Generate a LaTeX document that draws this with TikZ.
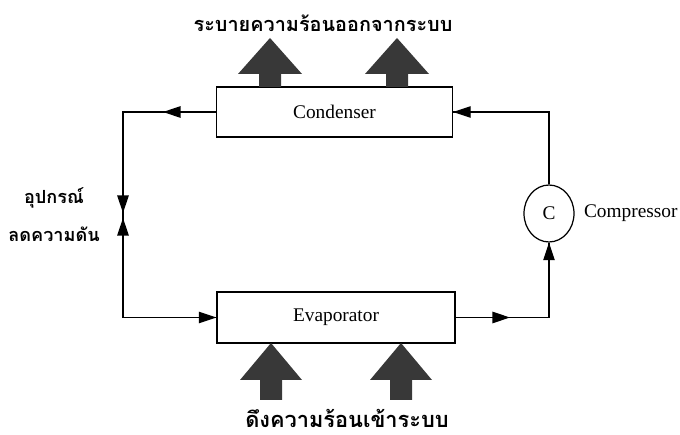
\documentclass[tikz,border=0pt]{standalone}
\usepackage{fontspec}
\setmainfont{Liberation Serif}
\newfontfamily\thaifont[Script=Thai]{Loma}
\usepackage{tikz}
\usetikzlibrary{shapes.geometric,arrows.meta,positioning}
\tikzstyle{unit} = [rectangle, minimum width = 4.72cm, minimum height = 1cm, text centered, draw = black, fill = white, font=\fontsize{11}{13}\selectfont]
\tikzstyle{pump} = [ellipse, minimum width = 1cm, minimum height = 1.14cm, inner sep=0pt, draw = black, font=\fontsize{11}{13}\selectfont]
\tikzstyle{arrow} = [->,>={Triangle[length=10pt,width=6.5pt]}]
\tikzstyle{heat} = [fill = black!78]
\tikzstyle{thai} = [font=\thaifont\bfseries\fontsize{11.3}{13}\selectfont]
\tikzstyle{thaibold} = [font=\thaifont\bfseries\fontsize{10.3}{12}\selectfont]

\begin{document}
\begin{tikzpicture}[x=0.02cm, y=-0.02cm, line width=0.7pt]
\useasboundingbox (0,0) rectangle (680,435);

\node(cond) [unit] at (334.5,112) {Condenser};
\node(evap) [unit, minimum width = 4.76cm, minimum height = 1.02cm] at (336,317.5) {Evaporator};
\node(comp) [pump] at (549,213.5) {C};
\node(complabel) [right = 0.06cm of comp, font=\fontsize{11}{13}\selectfont] {Compressor};
\node(out) [thai] at (323,23) {ระบายความร้อนออกจากระบบ};
\node(in) [thai, font=\thaifont\bfseries\fontsize{12.4}{14}\selectfont] at (347,418) {ดึงความร้อนเข้าระบบ};
\node(valve1) [thaibold] at (54,198) {อุปกรณ์};
\node(valve2) [thaibold] at (54,234) {ลดความดัน};

\coordinate(ltop) at (123,112);
\coordinate(lbot) at (123,317.5);
\coordinate(rtop) at (comp.north |- cond.east);
\coordinate(rbot) at (comp.south |- evap.east);

\draw (cond.west) -- (ltop) -- (lbot) -- (evap.west);
\draw (evap.east) -- (rbot) -- (comp.south);
\draw (comp.north) -- (rtop) -- (cond.east);

\draw [arrow] (cond.west) -- (163,112);
\draw [arrow] (ltop) -- (123,213);
\draw [arrow] (lbot) -- (123,218);
\draw [arrow] (lbot) -- (evap.west);
\draw [arrow] (evap.east) -- (510,317.5);
\draw [arrow] (rbot) -- (comp.south);
\draw [arrow] (rtop) -- (cond.east);

\foreach \cx in {270,397}
  \fill [heat] (\cx-11,87) -- (\cx-11,74) -- (\cx-32,74) -- (\cx,38) -- (\cx+32,74) -- (\cx+11,74) -- (\cx+11,87) -- cycle;
\foreach \cx in {271,401}
  \fill [heat] (\cx-11,400) -- (\cx-11,380) -- (\cx-31,380) -- (\cx,343) -- (\cx+31,380) -- (\cx+11,380) -- (\cx+11,400) -- cycle;

\end{tikzpicture}
\end{document}
